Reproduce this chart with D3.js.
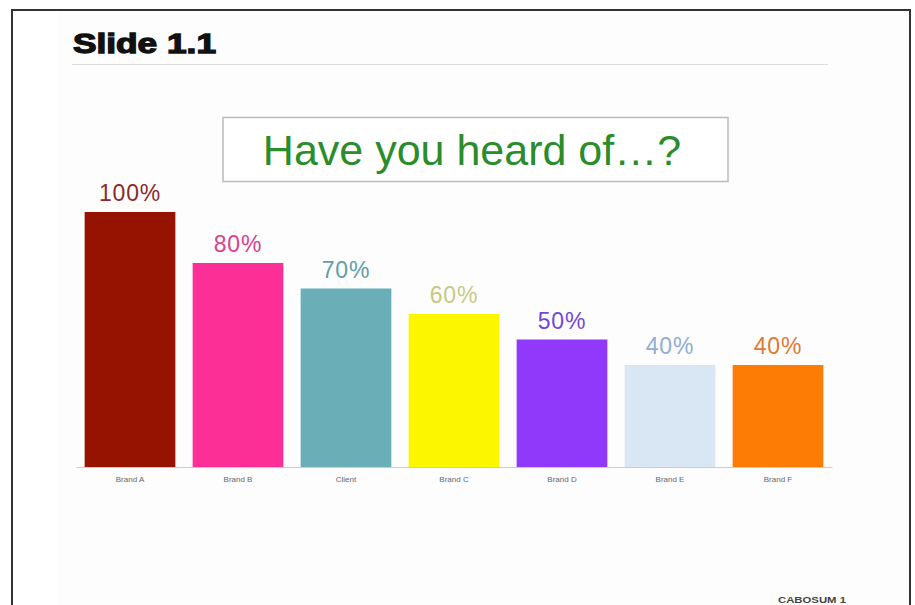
<!DOCTYPE html>
<html>
<head>
<meta charset="utf-8">
<script src="https://cdn.jsdelivr.net/npm/d3@7"></script>
<style>
  html, body { margin: 0; padding: 0; background: #fff; }
  svg { display: block; }
</style>
</head>
<body>
<svg id="chart" width="915" height="605"></svg>
<script>
// Survey results: brand awareness
const categories = ["Brand A", "Brand B", "Client", "Brand C", "Brand D", "Brand E", "Brand F"];
const awareness = [100, 80, 70, 60, 50, 40, 40];
const barColors = ["#951300", "#fc2f97", "#6aafb8", "#fcf600", "#9039fb", "#d9e6f3", "#fd7c05"];
const labelColors = ["#8a2a2a", "#d8408f", "#5f9fa8", "#c9c884", "#7447d8", "#8eaed6", "#de7a33"];

const svg = d3.select("#chart");
const W = 915, H = 605;
const FONT = "Liberation Sans, Arial, sans-serif";

// Slide frame
svg.append("rect").attr("x", 0).attr("y", 0).attr("width", W).attr("height", H).attr("fill", "#fff");
svg.append("rect").attr("x", 58).attr("y", 11).attr("width", 852).attr("height", H - 11).attr("fill", "#fdfdfd");
svg.append("path")
  .attr("d", `M12,${H} L12,10 L910,10 L910,${H}`)
  .attr("fill", "none").attr("stroke", "#333").attr("stroke-width", 2);

// Slide heading (heavy, wide face)
svg.append("text").attr("x", 73).attr("y", 53)
  .attr("font-family", FONT)
  .attr("font-weight", "bold").attr("font-size", 27).attr("fill", "#111")
  .attr("stroke", "#111").attr("stroke-width", 1.3)
  .attr("textLength", 143).attr("lengthAdjust", "spacingAndGlyphs")
  .text("Slide 1.1");
svg.append("line").attr("x1", 72).attr("x2", 828).attr("y1", 64.5).attr("y2", 64.5)
  .attr("stroke", "#ddd").attr("stroke-width", 1.2);

// Question box
svg.append("rect").attr("x", 223).attr("y", 117.5).attr("width", 505).attr("height", 64)
  .attr("fill", "#fff").attr("stroke", "#bbb").attr("stroke-width", 1.5);
svg.append("text").attr("x", 472).attr("y", 165)
  .attr("text-anchor", "middle")
  .attr("font-family", FONT)
  .attr("font-size", 43).attr("fill", "#2a8c2a")
  .text("Have you heard of\u2026?");

// Scales
const x = d3.scaleBand().domain(categories).range([76, 832]).paddingInner(0.16).paddingOuter(0.08);
const y = d3.scaleLinear().domain([0, 100]).range([467, 212]);

// Bars
svg.append("g").selectAll("rect")
  .data(categories)
  .join("rect")
  .attr("x", d => x(d))
  .attr("y", (d, i) => y(awareness[i]))
  .attr("width", x.bandwidth())
  .attr("height", (d, i) => y(0) - y(awareness[i]))
  .attr("fill", (d, i) => barColors[i]);

// Value labels
svg.append("g").selectAll("text")
  .data(categories)
  .join("text")
  .attr("x", d => x(d) + x.bandwidth() / 2)
  .attr("y", (d, i) => y(awareness[i]) - 11)
  .attr("text-anchor", "middle")
  .attr("font-family", FONT)
  .attr("font-size", 23)
  .attr("letter-spacing", 0.8)
  .attr("fill", (d, i) => labelColors[i])
  .text((d, i) => awareness[i] + "%");

// Category axis
const axis = svg.append("g").attr("transform", `translate(0,${y(0)})`)
  .call(d3.axisBottom(x).tickSize(0).tickPadding(9));
axis.select(".domain").attr("stroke", "#ccc").attr("stroke-width", 1.2);
axis.selectAll("text")
  .attr("font-family", FONT)
  .attr("font-size", 8).attr("fill", "#666");

// Footer
svg.append("text").attr("x", 778).attr("y", 603)
  .attr("font-family", FONT)
  .attr("font-weight", "bold").attr("font-size", 9).attr("fill", "#444")
  .attr("textLength", 68).attr("lengthAdjust", "spacingAndGlyphs")
  .text("CABOSUM  1");
</script>
</body>
</html>
